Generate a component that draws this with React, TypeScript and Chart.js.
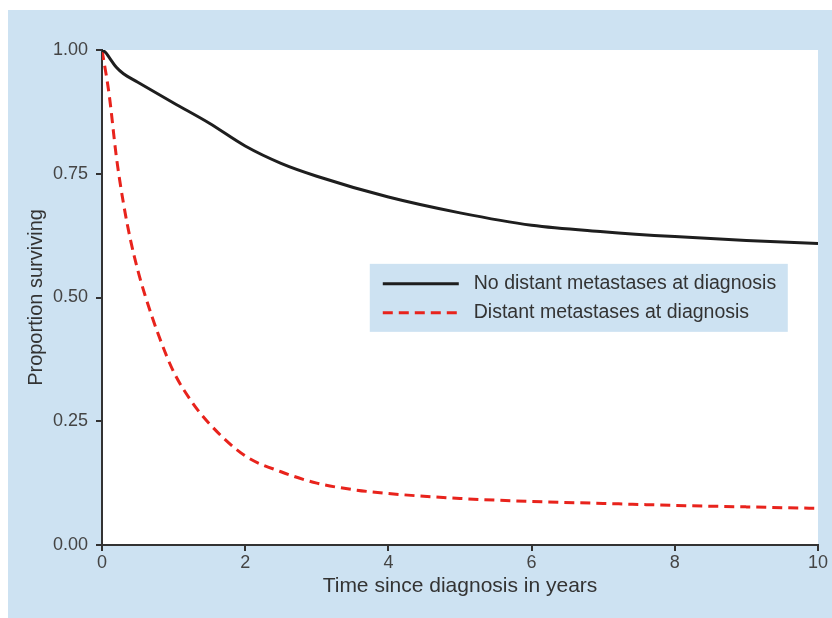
import React, { useEffect, useRef } from "react";
import { Chart, registerables } from "chart.js";

Chart.register(...registerables);

const seriesNoMetLabel = "No distant metastases at diagnosis";
const seriesMetLabel = "Distant metastases at diagnosis";

const noMetTimes = [0, 0.05, 0.1, 0.2, 0.3, 0.5, 1, 1.5, 2, 2.5, 3, 4, 5, 6, 7, 8, 9, 10];
const noMetValues = [1.0, 0.995, 0.985, 0.965, 0.952, 0.935, 0.893, 0.852, 0.806, 0.771, 0.745, 0.703, 0.671, 0.646, 0.633, 0.623, 0.615, 0.609];

const metTimes = [0, 0.1, 0.2, 0.3, 0.4, 0.5, 0.6, 0.8, 1.0, 1.25, 1.5, 2, 2.5, 3, 3.5, 4, 5, 6, 7, 8, 9, 10];
const metValues = [1.0, 0.91, 0.785, 0.69, 0.615, 0.555, 0.505, 0.42, 0.35, 0.29, 0.245, 0.18, 0.148, 0.125, 0.112, 0.104, 0.094, 0.088, 0.084, 0.08, 0.077, 0.074];

const xTicks = [0, 2, 4, 6, 8, 10];
const yTicks = [0, 0.25, 0.5, 0.75, 1.0];

const FONT = "'Liberation Sans', Arial, Helvetica, sans-serif";
const BLUE = "#cde2f2";

const backgroundPlugin = {
  id: "bgPlugin",
  beforeDraw(chart: any) {
    const { ctx, chartArea } = chart;
    ctx.save();
    ctx.fillStyle = "#ffffff";
    ctx.fillRect(0, 0, chart.width, chart.height);
    ctx.fillStyle = BLUE;
    ctx.fillRect(8, 10, chart.width - 8, chart.height - 10);
    ctx.fillStyle = "#ffffff";
    ctx.fillRect(chartArea.left, chartArea.top, chartArea.right - chartArea.left, chartArea.bottom - chartArea.top);
    ctx.restore();
  },
};

const legendPlugin = {
  id: "boxLegend",
  afterDatasetsDraw(chart: any) {
    const { ctx, scales } = chart;
    const x0 = scales.x.getPixelForValue(3.74);
    const y0 = scales.y.getPixelForValue(0.568);
    const w = 418;
    const h = 68;
    ctx.save();
    ctx.fillStyle = BLUE;
    ctx.fillRect(x0, y0, w, h);
    chart.data.datasets.forEach((ds: any, i: number) => {
      const cy = y0 + 20 + i * 29;
      ctx.beginPath();
      ctx.strokeStyle = ds.borderColor;
      ctx.lineWidth = 3;
      ctx.setLineDash(ds.borderDash || []);
      ctx.moveTo(x0 + 13, cy);
      ctx.lineTo(x0 + 89, cy);
      ctx.stroke();
      ctx.setLineDash([]);
      ctx.fillStyle = "#333333";
      ctx.font = `19.5px ${FONT}`;
      ctx.textBaseline = "middle";
      ctx.textAlign = "left";
      ctx.fillText(ds.label, x0 + 104, cy);
    });
    ctx.restore();
  },
};

export default function App() {
  const ref = useRef<HTMLCanvasElement | null>(null);
  useEffect(() => {
    if (!ref.current) return;
    const chart = new Chart(ref.current, {
      type: "line",
      data: {
        datasets: [
          {
            label: seriesNoMetLabel,
            data: noMetTimes.map((t, i) => ({ x: t, y: noMetValues[i] })),
            borderColor: "#1e1e1e",
            borderWidth: 3,
            pointRadius: 0,
            cubicInterpolationMode: "monotone",
            fill: false,
          },
          {
            label: seriesMetLabel,
            data: metTimes.map((t, i) => ({ x: t, y: metValues[i] })),
            borderColor: "#e8231c",
            borderWidth: 3,
            borderDash: [10, 6],
            pointRadius: 0,
            cubicInterpolationMode: "monotone",
            fill: false,
          },
        ],
      },
      options: {
        animation: false,
        responsive: false,
        layout: { padding: { left: 20, top: 50, right: 14, bottom: 15 } },
        plugins: { legend: { display: false }, tooltip: { enabled: false } },
        scales: {
          x: {
            type: "linear",
            min: 0,
            max: 10,
            afterFit(scale: any) {
              scale.height = 58;
            },
            afterBuildTicks(scale: any) {
              scale.ticks = xTicks.map((v) => ({ value: v }));
            },
            grid: { drawOnChartArea: false, drawTicks: true, tickLength: 6, color: "#333333", lineWidth: 2 },
            border: { display: true, color: "#333333", width: 2 },
            ticks: { color: "#444444", font: { family: FONT, size: 18 }, padding: 1, maxRotation: 0 },
            title: { display: true, text: "Time since diagnosis in years", color: "#333333", font: { family: FONT, size: 21 } },
          },
          y: {
            type: "linear",
            min: 0,
            max: 1,
            afterFit(scale: any) {
              scale.width = 82;
            },
            afterBuildTicks(scale: any) {
              scale.ticks = yTicks.map((v) => ({ value: v }));
            },
            grid: { drawOnChartArea: false, drawTicks: true, tickLength: 6, color: "#333333", lineWidth: 2 },
            border: { display: true, color: "#333333", width: 2 },
            ticks: {
              color: "#444444",
              font: { family: FONT, size: 18 },
              padding: 8,
              callback: (v: any) => Number(v).toFixed(2),
            },
            title: { display: true, text: "Proportion surviving", color: "#333333", font: { family: FONT, size: 20 } },
          },
        },
      },
      plugins: [backgroundPlugin, legendPlugin],
    } as any);
    return () => chart.destroy();
  }, []);
  return (
    <div style={{ position: "fixed", left: 0, top: 0, width: 832, height: 618 }}>
      <canvas ref={ref} width={832} height={618} style={{ display: "block" }} />
    </div>
  );
}
